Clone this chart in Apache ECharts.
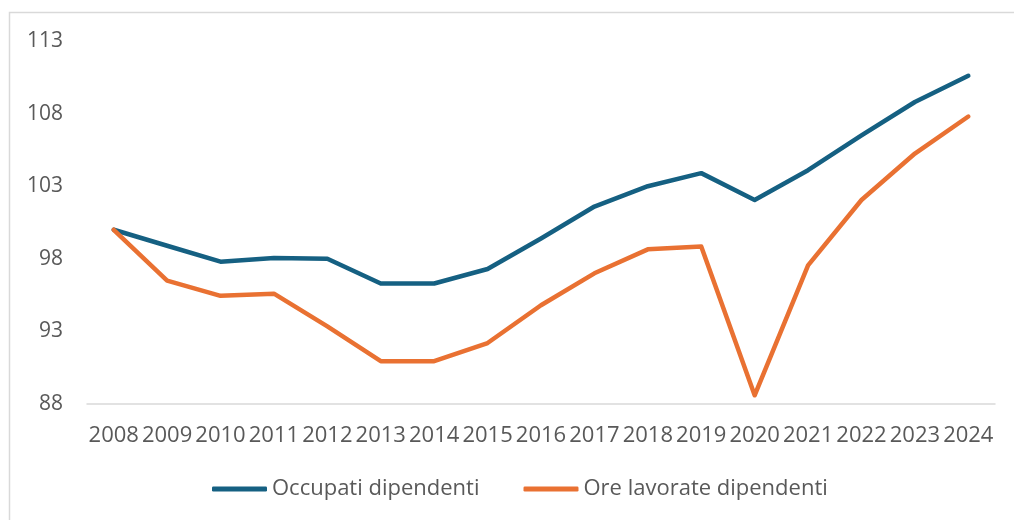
<!DOCTYPE html>
<html>
<head>
<meta charset="utf-8">
<script src="https://cdn.jsdelivr.net/npm/echarts@6/dist/echarts.min.js"></script>
<style>
  html, body { margin: 0; padding: 0; background: #fff; }
  #chart { width: 1014px; height: 520px; }
</style>
</head>
<body>
<div id="chart"></div>
<script>
// anni sull'asse x
const anni = ['2008', '2009', '2010', '2011', '2012', '2013', '2014', '2015', '2016',
  '2017', '2018', '2019', '2020', '2021', '2022', '2023', '2024'];
// indici 2008 = 100
const occupati = [100, 98.9, 97.8, 98.05, 98.0, 96.3, 96.3, 97.3, 99.4,
  101.6, 103.0, 103.9, 102.05, 104.1, 106.5, 108.8, 110.6];
const oreLavorate = [100, 96.5, 95.45, 95.6, 93.35, 90.95, 90.95, 92.2, 94.8,
  97.0, 98.65, 98.85, 88.6, 97.55, 102.05, 105.25, 107.8];
const yTicks = [88, 93, 98, 103, 108, 113];

const font = '"Open Sans", "Noto Sans", sans-serif';
const grigio = '#595959';

const chart = echarts.init(document.getElementById('chart'), null, { renderer: 'canvas' });
chart.setOption({
  animation: false,
  textStyle: { fontFamily: font },
  // cornice esterna come nel grafico di Excel
  graphic: [{
    type: 'rect',
    shape: { x: 9.5, y: 12.5, width: 1020, height: 540 },
    style: { fill: null, stroke: '#d9d9d9', lineWidth: 1.5 },
    silent: true
  }],
  grid: {
    left: 87, right: 19, top: 41, bottom: 116,
    containLabel: false,
    outerBoundsMode: 'none'
  },
  legend: {
    left: 207,
    top: 473,
    itemWidth: 55,
    itemHeight: 5,
    itemGap: 44,
    icon: 'roundRect',
    textStyle: { color: grigio, fontSize: 22, fontFamily: font },
    data: ['Occupati dipendenti', 'Ore lavorate dipendenti']
  },
  xAxis: {
    type: 'category',
    data: anni,
    boundaryGap: true,
    axisLine: { lineStyle: { color: '#d9d9d9', width: 1.5 } },
    axisTick: { show: false },
    axisLabel: { interval: 0, color: grigio, fontSize: 22, margin: 21, fontFamily: font }
  },
  yAxis: {
    type: 'value',
    min: yTicks[0],
    max: yTicks[yTicks.length - 1],
    interval: 5,
    axisLine: { show: false },
    axisTick: { show: false },
    splitLine: { show: false },
    axisLabel: { color: grigio, fontSize: 21, margin: 24, fontFamily: font }
  },
  series: [
    {
      name: 'Occupati dipendenti',
      type: 'line',
      data: occupati,
      symbol: 'none',
      color: '#156082',
      lineStyle: { width: 4.5, cap: 'round', join: 'round' }
    },
    {
      name: 'Ore lavorate dipendenti',
      type: 'line',
      data: oreLavorate,
      symbol: 'none',
      color: '#E97132',
      lineStyle: { width: 4.5, cap: 'round', join: 'round' }
    }
  ]
});
</script>
</body>
</html>
